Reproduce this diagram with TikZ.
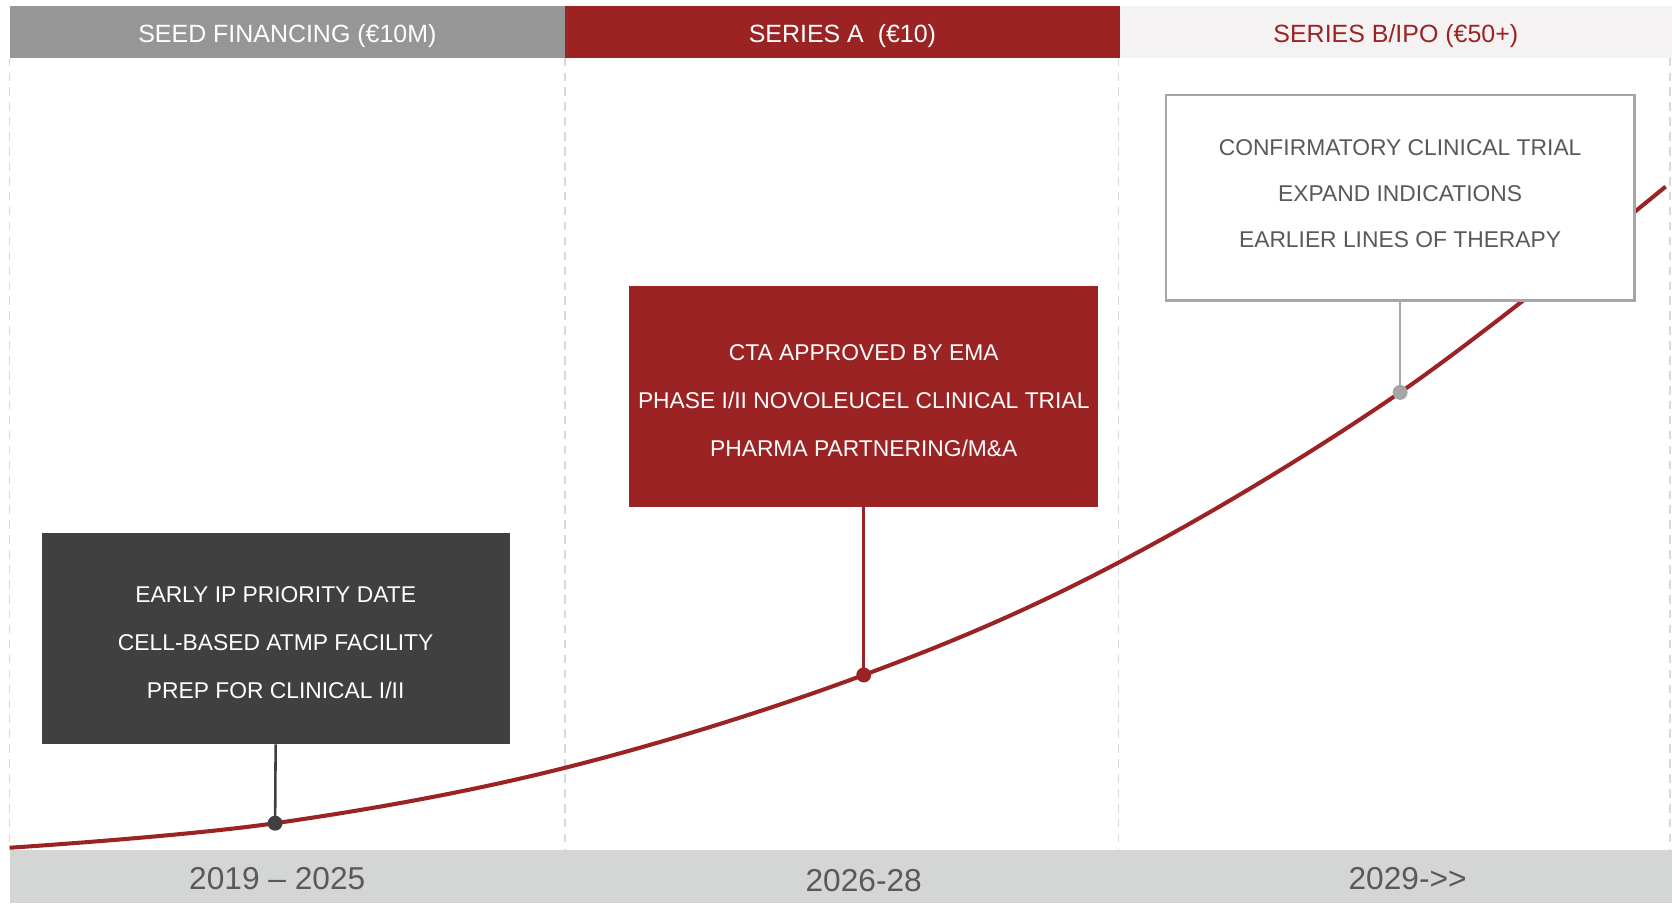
\documentclass[tikz,border=0pt]{standalone}
\usepackage{fontspec}
\setmainfont{Liberation Sans}
\definecolor{hgray}{HTML}{969696}
\definecolor{bred}{HTML}{9B2323}
\definecolor{hlight}{HTML}{F4F2F3}
\definecolor{bandgray}{HTML}{D4D6D5}
\definecolor{darkbox}{HTML}{404040}
\definecolor{boxline}{HTML}{A6A6A6}
\definecolor{txtgray}{HTML}{595959}
\definecolor{dashgray}{HTML}{D9D9D9}
\tikzset{
  hdr/.style={inner sep=0pt, outer sep=0pt, minimum height=48pt, minimum width=520pt,
    text height=19pt, text depth=0pt, font=\fontsize{23.4pt}{28pt}\selectfont},
  yeartxt/.style={inner sep=0pt, text=txtgray, font=\fontsize{29.7pt}{34pt}\selectfont},
  sepline/.style={draw=dashgray, line width=1.5pt, dash pattern=on 8pt off 6pt},
  mbox/.style={inner sep=0pt, outer sep=0pt, minimum width=439pt},
  mtext/.style={inner sep=0pt, align=center, font=\fontsize{21.4pt}{45pt}\selectfont},
  curve/.style={draw=bred, line width=3.8pt},
  stem/.style={line width=2.4pt},
  dot/.style={circle, inner sep=0pt, minimum size=14pt},
}
\begin{document}
\begin{tikzpicture}[x=1pt,y=-1pt]
\useasboundingbox (0,0) rectangle (1568,847);
% header
\node[hdr, fill=hgray, text=white] (seed) at (269.5,30) {SEED FINANCING (€10M)};
\node[hdr, fill=bred, text=white] (seriesA) at (790,30) {SERIES A\ \ (€10)};
\node[hdr, fill=hlight, text=bred, minimum width=518pt] (seriesB) at (1309,30) {SERIES B/IPO (€50+)};
% dashed separators
\foreach \xx in {9,530,1049,1566} \draw[sepline] (\xx,54) -- (\xx,797);
% bottom band
\node[fill=bandgray, inner sep=0pt, outer sep=0pt, minimum width=1559pt, minimum height=50pt] (band) at (788.5,822) {};
\node[yeartxt] (yr1) at (260,824) {2019 – 2025};
\node[yeartxt] (yr2) at (810,826) {2026-28};
\node[yeartxt] (yr3) at (1320,824) {2029->\kern0pt>};
% growth curve
\draw[curve] plot[smooth, tension=0.6] coordinates {(9,795) (258,772) (530,720) (810,633) (1050,527) (1313,368) (1562,175)};
\coordinate (p1) at (258,772);
\coordinate (p2) at (810,633);
\coordinate (p3) at (1313,368);
% boxes
\node[mbox, fill=darkbox, minimum height=198pt] (b1) at (258.5,599) {};
\node[mtext, text=white] (t1) at (258.5,603)
  {EARLY IP PRIORITY DATE\\CELL-BASED ATMP FACILITY\\PREP FOR CLINICAL I/II};
\node[mbox, fill=bred, minimum height=207pt, minimum width=440pt] (b2) at (810,371.5) {};
\node[mtext, text=white] (t2) at (810,375.5)
  {CTA APPROVED BY EMA\\PHASE I/II NOVOLEUCEL CLINICAL TRIAL\\PHARMA PARTNERING/M\&A};
\node[mbox, fill=white, draw=boxline, line width=2.5pt, minimum height=193pt] (b3) at (1313,185.5) {};
\node[mtext, text=txtgray, font=\fontsize{21.4pt}{43pt}\selectfont] (t3) at (1313,181.5)
  {CONFIRMATORY CLINICAL TRIAL\\EXPAND INDICATIONS\\EARLIER LINES OF THERAPY};
% stems and dots
\draw[stem, darkbox] (b1.south) -- (p1);
\node[dot, fill=darkbox] (d1) at (p1) {};
\draw[stem, bred] (b2.south) -- (p2);
\node[dot, fill=bred] (d2) at (p2) {};
\draw[stem, boxline] (b3.south) -- (p3);
\node[dot, fill=boxline] (d3) at (p3) {};
\end{tikzpicture}
\end{document}
